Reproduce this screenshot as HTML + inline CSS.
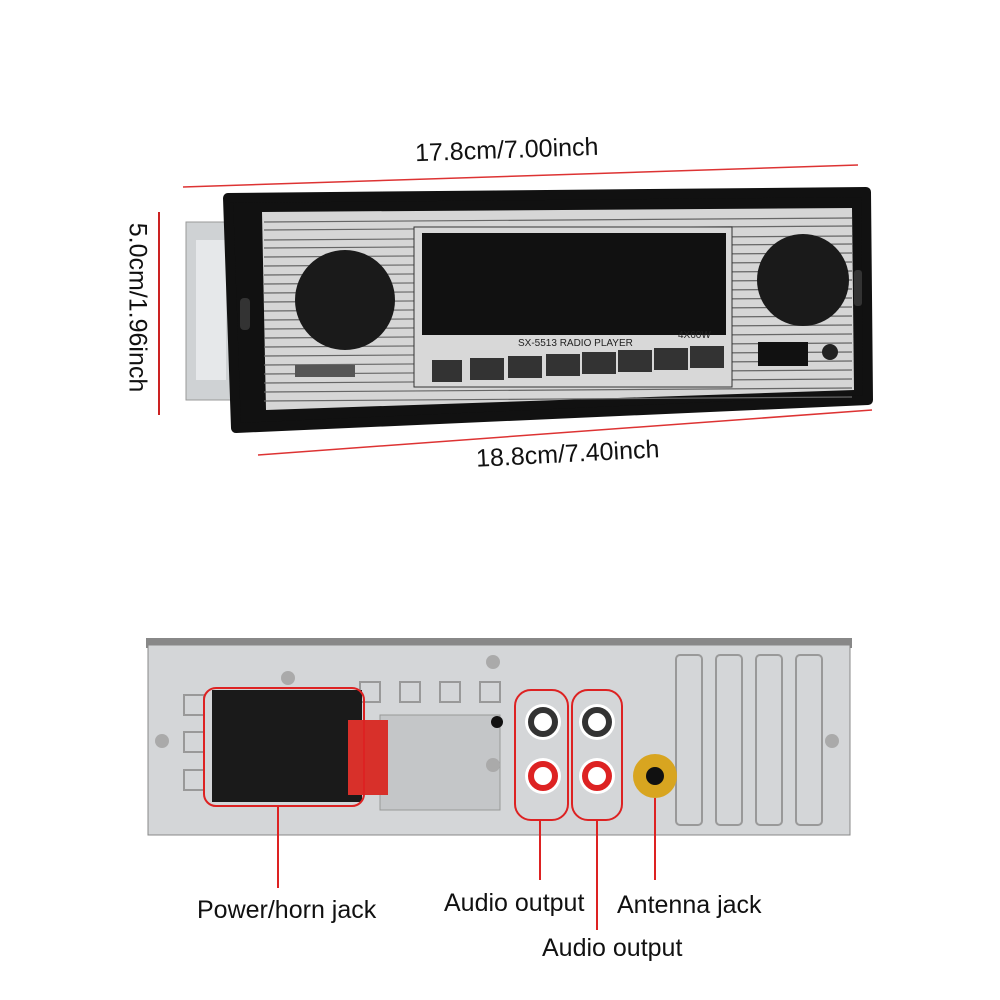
<!DOCTYPE html>
<html><head><meta charset="utf-8"><style>
body{margin:0;background:#fff;}
#c{position:relative;width:1000px;height:1000px;overflow:hidden;font-family:"Liberation Sans",sans-serif;}
.t{position:absolute;font-size:25px;color:#111;white-space:nowrap;}
</style></head><body><div id="c">
<svg width="1000" height="1000" style="position:absolute;left:0;top:0">
<line x1="183" y1="187" x2="858" y2="165" stroke="#d33" stroke-width="1.5"/>
<line x1="258" y1="455" x2="872" y2="410" stroke="#d33" stroke-width="1.5"/>
<line x1="159" y1="212" x2="159" y2="415" stroke="#c22" stroke-width="2"/>
<rect x="186" y="222" width="50" height="178" fill="#cfd2d4" stroke="#999"/>
<rect x="196" y="240" width="30" height="140" fill="#e6e8ea"/>
<polygon points="228,198 866,192 868,400 236,428" fill="#111" stroke="#111" stroke-width="10" stroke-linejoin="round"/>
<polygon points="262,212 852,208 854,390 266,410" fill="#d6d6d6"/>
<g stroke="#666" stroke-width="1.2">
<line x1="264" y1="222" x2="852" y2="218"/><line x1="264" y1="230" x2="852" y2="226"/>
<line x1="264" y1="240" x2="852" y2="236"/><line x1="264" y1="248" x2="852" y2="244"/>
<line x1="264" y1="257" x2="852" y2="253"/><line x1="264" y1="266" x2="852" y2="262"/>
<line x1="264" y1="275" x2="852" y2="271"/><line x1="264" y1="284" x2="852" y2="280"/>
<line x1="264" y1="293" x2="852" y2="289"/><line x1="264" y1="302" x2="852" y2="298"/>
<line x1="264" y1="311" x2="852" y2="307"/><line x1="264" y1="320" x2="852" y2="316"/>
<line x1="264" y1="329" x2="852" y2="325"/><line x1="264" y1="338" x2="852" y2="334"/>
<line x1="264" y1="347" x2="852" y2="343"/><line x1="264" y1="356" x2="852" y2="352"/>
<line x1="264" y1="365" x2="852" y2="361"/><line x1="264" y1="374" x2="852" y2="370"/>
<line x1="264" y1="383" x2="852" y2="379"/><line x1="264" y1="392" x2="852" y2="388"/>
<line x1="264" y1="401" x2="852" y2="397"/>
</g>
<rect x="414" y="227" width="318" height="160" fill="#d8d8d8" stroke="#333"/>
<rect x="422" y="233" width="304" height="102" fill="#111"/>
<circle cx="345" cy="300" r="50" fill="#1a1a1a"/>
<circle cx="803" cy="280" r="46" fill="#1a1a1a"/>
<rect x="295" y="365" width="60" height="12" fill="#555"/>
<rect x="240" y="298" width="10" height="32" rx="4" fill="#333"/>
<rect x="854" y="270" width="8" height="36" rx="3" fill="#333"/>
<rect x="758" y="342" width="50" height="24" fill="#111"/>
<circle cx="830" cy="352" r="8" fill="#222"/>
<g fill="#333">
<rect x="432" y="360" width="30" height="22"/><rect x="470" y="358" width="34" height="22"/>
<rect x="508" y="356" width="34" height="22"/><rect x="546" y="354" width="34" height="22"/>
<rect x="582" y="352" width="34" height="22"/><rect x="618" y="350" width="34" height="22"/>
<rect x="654" y="348" width="34" height="22"/><rect x="690" y="346" width="34" height="22"/>
</g>
<text x="518" y="346" font-size="10" fill="#222" font-family="Liberation Sans">SX-5513   RADIO PLAYER</text>
<text x="678" y="338" font-size="10" fill="#222" font-family="Liberation Sans">4X60W</text>
<rect x="146" y="638" width="706" height="10" fill="#888"/>
<rect x="148" y="645" width="702" height="190" fill="#d4d6d8" stroke="#888"/>
<g fill="none" stroke="#999" stroke-width="2">
<rect x="676" y="655" width="26" height="170" rx="4"/><rect x="716" y="655" width="26" height="170" rx="4"/>
<rect x="756" y="655" width="26" height="170" rx="4"/><rect x="796" y="655" width="26" height="170" rx="4"/>
<rect x="360" y="682" width="20" height="20"/><rect x="400" y="682" width="20" height="20"/>
<rect x="440" y="682" width="20" height="20"/><rect x="480" y="682" width="20" height="20"/>
<rect x="184" y="695" width="20" height="20"/><rect x="184" y="732" width="20" height="20"/><rect x="184" y="770" width="20" height="20"/>
</g>
<rect x="380" y="715" width="120" height="95" fill="#c4c6c8" stroke="#999"/>
<circle cx="288" cy="678" r="7" fill="#aaa"/><circle cx="493" cy="662" r="7" fill="#aaa"/>
<circle cx="162" cy="741" r="7" fill="#aaa"/><circle cx="832" cy="741" r="7" fill="#aaa"/>
<circle cx="493" cy="765" r="7" fill="#aaa"/><circle cx="497" cy="722" r="6" fill="#111"/>
<rect x="212" y="690" width="150" height="112" fill="#1a1a1a"/>
<rect x="348" y="720" width="40" height="75" fill="#d8302a"/>
<rect x="204" y="688" width="160" height="118" rx="12" fill="none" stroke="#d22" stroke-width="2"/>
<g fill="#fff"><circle cx="543" cy="722" r="18"/><circle cx="597" cy="722" r="18"/></g>
<g fill="none" stroke="#333" stroke-width="6"><circle cx="543" cy="722" r="12"/><circle cx="597" cy="722" r="12"/></g>
<g fill="#fff"><circle cx="543" cy="776" r="18"/><circle cx="597" cy="776" r="18"/></g>
<g fill="none" stroke="#d22" stroke-width="6"><circle cx="543" cy="776" r="12"/><circle cx="597" cy="776" r="12"/></g>
<circle cx="655" cy="776" r="22" fill="#d8a520"/><circle cx="655" cy="776" r="9" fill="#111"/>
<rect x="515" y="690" width="53" height="130" rx="16" fill="none" stroke="#d22" stroke-width="2"/>
<rect x="572" y="690" width="50" height="130" rx="16" fill="none" stroke="#d22" stroke-width="2"/>
<g stroke="#d22" stroke-width="2">
<line x1="278" y1="806" x2="278" y2="888"/><line x1="540" y1="820" x2="540" y2="880"/>
<line x1="597" y1="820" x2="597" y2="930"/><line x1="655" y1="798" x2="655" y2="880"/>
</g>
</svg>
<div class="t" style="left:415px;top:136px;transform:rotate(-2deg)">17.8cm/7.00inch</div>
<div class="t" style="left:476px;top:440px;transform:rotate(-3deg)">18.8cm/7.40inch</div>
<div class="t" style="left:52px;top:293px;transform:rotate(90deg)">5.0cm/1.96inch</div>
<div class="t" style="left:197px;top:896px">Power/horn jack</div>
<div class="t" style="left:444px;top:889px">Audio output</div>
<div class="t" style="left:617px;top:891px">Antenna jack</div>
<div class="t" style="left:542px;top:934px">Audio output</div>
</div></body></html>
